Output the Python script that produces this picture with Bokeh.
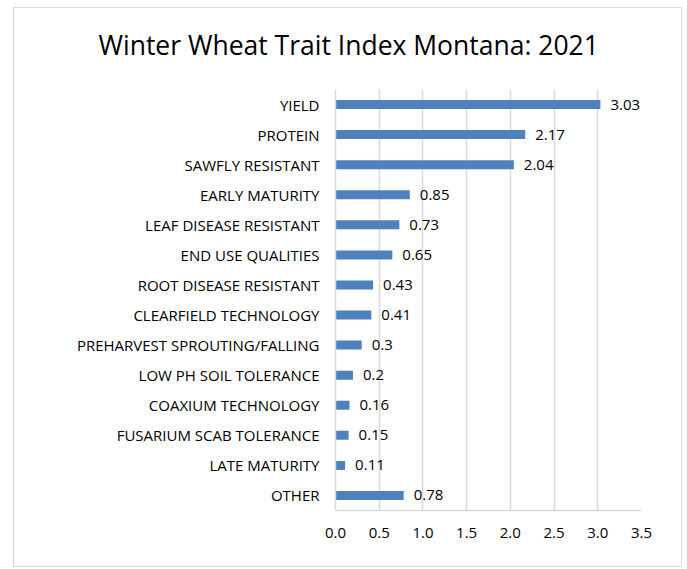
from bokeh.plotting import figure
from bokeh.models import ColumnDataSource, LabelSet, Title, Range1d, FixedTicker, NumeralTickFormatter, FactorRange
from bokeh.core.properties import value
from bokeh.embed import file_html
from bokeh.resources import INLINE

title_text = "Winter Wheat Trait Index Montana: 2021"
categories = ["YIELD", "PROTEIN", "SAWFLY RESISTANT", "EARLY MATURITY",
              "LEAF DISEASE RESISTANT", "END USE QUALITIES", "ROOT DISEASE RESISTANT",
              "CLEARFIELD TECHNOLOGY", "PREHARVEST SPROUTING/FALLING",
              "LOW PH SOIL TOLERANCE", "COAXIUM TECHNOLOGY", "FUSARIUM SCAB TOLERANCE",
              "LATE MATURITY", "OTHER"]
values = [3.03, 2.17, 2.04, 0.85, 0.73, 0.65, 0.43, 0.41, 0.3, 0.2, 0.16, 0.15, 0.11, 0.78]
value_labels = ["3.03", "2.17", "2.04", "0.85", "0.73", "0.65", "0.43", "0.41",
                "0.3", "0.2", "0.16", "0.15", "0.11", "0.78"]
x_ticks = [0.0, 0.5, 1.0, 1.5, 2.0, 2.5, 3.0, 3.5]

FONT = "Open Sans"
GRID = "#D9D9D9"

source = ColumnDataSource(dict(cat=categories, val=values, lab=value_labels))

p = figure(width=669, height=560, output_backend="svg", toolbar_location=None,
           y_range=FactorRange(factors=list(reversed(categories))),
           x_range=Range1d(0, 3.5),
           min_border_left=321, min_border_right=42, min_border_top=10, min_border_bottom=58)
p.styles = {"border": "1px solid #D9D9D9", "margin-left": "13px", "margin-top": "7px"}

p.hbar(y="cat", right="val", left=0, height=0.3, source=source,
       fill_color="#4F81BD", line_color=None)

labels = LabelSet(x="val", y="cat", text="lab", source=source, x_offset=10,
                  text_baseline="middle", text_font=value(FONT), text_font_size="15px",
                  text_color="#000000")
p.add_layout(labels)

spacer = Title(text=".", text_font_size="2px", standoff=7, text_color="#FFFFFF")
p.add_layout(spacer, "above")

title = Title(text=title_text, align="left", offset=-237, standoff=33,
              text_font=FONT, text_font_size="26.5px", text_font_style="normal",
              text_color="#000000")
p.add_layout(title, "above")

p.outline_line_color = None
p.ygrid.grid_line_color = None
p.xgrid.grid_line_color = GRID
p.xgrid.grid_line_width = 1.5
p.xaxis.ticker = FixedTicker(ticks=x_ticks)
p.xaxis.formatter = NumeralTickFormatter(format="0.0")

for ax in (p.xaxis, p.yaxis):
    ax.major_tick_line_color = None
    ax.minor_tick_line_color = None
    ax.axis_line_color = GRID
    ax.axis_line_width = 1.5
    ax.major_label_text_font = FONT
    ax.major_label_text_font_size = "15px"
    ax.major_label_text_color = "#000000"

p.yaxis.major_label_standoff = 10
p.xaxis.major_label_standoff = 11

open("out.html", "w").write(file_html(p, INLINE))
